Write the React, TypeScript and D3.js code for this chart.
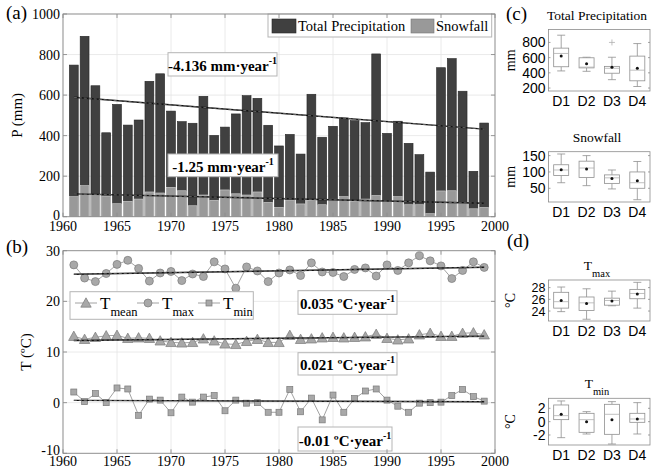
import React from 'react';
import * as d3 from 'd3';

// ---- data ----
const years = [1961, 1962, 1963, 1964, 1965, 1966, 1967, 1968, 1969, 1970,
    1971, 1972, 1973, 1974, 1975, 1976, 1977, 1978, 1979, 1980,
    1981, 1982, 1983, 1984, 1985, 1986, 1987, 1988, 1989, 1990,
    1991, 1992, 1993, 1994, 1995, 1996, 1997, 1998, 1999];

const totalPrecip = [748, 890, 646, 414, 554, 452, 477, 668, 705, 521,
    469, 461, 594, 401, 442, 507, 597, 584, 451, 349,
    406, 309, 604, 392, 446, 487, 474, 464, 803, 411,
    471, 362, 306, 220, 735, 780, 619, 224, 462];

const snowfall = [99, 153, 110, 102, 64, 76, 87, 122, 117, 145,
    128, 54, 107, 81, 132, 113, 107, 122, 71, 46,
    82, 63, 81, 59, 86, 99, 76, 87, 105, 76,
    99, 59, 59, 15, 127, 128, 66, 39, 46];

const tMax = [27.2, 24.6, 23.9, 25.5, 27.3, 28.1, 26.5, 24.0, 25.6, 25.9,
    24.1, 25.4, 24.9, 27.8, 26.4, 22.6, 26.8, 26.0, 23.9, 25.6,
    26.2, 25.1, 27.6, 25.8, 25.7, 24.9, 26.3, 26.6, 25.0, 27.2,
    26.1, 27.6, 29.0, 28.0, 27.0, 24.5, 26.1, 27.8, 26.7];

const tMean = [13.1, 12.5, 12.9, 13.2, 13.3, 12.7, 12.8, 12.7, 12.2, 11.9,
    11.8, 11.9, 12.6, 12.2, 11.6, 11.5, 12.1, 12.5, 11.9, 11.9,
    13.3, 12.5, 12.6, 12.8, 12.9, 12.8, 12.9, 13.0, 13.5, 12.7,
    12.4, 12.6, 13.4, 13.7, 13.1, 13.1, 13.7, 13.8, 13.4];

const tMin = [2.1, 0.2, 1.8, 0.0, 2.9, 2.7, -2.5, 0.7, 0.5, -2.0,
    1.1, 0.1, 1.1, 1.4, -1.6, 0.5, -0.1, 0.0, -1.9, -1.9,
    2.6, -1.8, 0.9, -3.4, 1.5, -1.9, 0.8, 2.3, 2.7, 0.5,
    -0.7, -1.9, -0.1, 0.0, 0.1, 1.4, 2.6, 1.2, 0.3];

const yearTicks = [1960, 1965, 1970, 1975, 1980, 1985, 1990, 1995, 2000];
const precipTicks = [0, 200, 400, 600, 800, 1000];
const tempTicks = [-10, 0, 10, 20, 30];

// box plots: [lower whisker, q1, median, q3, upper whisker]
const decades = ['D1', 'D2', 'D3', 'D4'];
const precipBox = [[425, 480, 655, 725, 895], [420, 465, 475, 598, 605], [310, 395, 460, 485, 605], [220, 295, 435, 620, 785]];
const precipMean = [620, 520, 475, 460];
const precipOutliers = [[], [], [800], []];
const snowBox = [[67, 89, 106, 122, 155], [58, 83, 112, 133, 150], [48, 65, 82, 91, 106], [15, 50, 67, 100, 132]];
const snowMean = [107, 109, 80, 73];
const tMaxBox = [[23.9, 24.5, 25.6, 27.2, 28.1], [22.6, 24.1, 25.4, 26.4, 27.8], [24.9, 25.0, 25.8, 26.2, 27.4], [24.5, 26.1, 27.0, 27.7, 28.9]];
const tMaxMean = [25.8, 25.3, 25.7, 26.9];
const tMinBox = [[-2.4, 0.3, 0.9, 2.5, 3.1], [-1.85, -1.6, 0.3, 1.25, 1.5], [-3.35, -1.9, 1.1, 2.6, 3.0], [-1.85, -0.1, 0.4, 1.25, 2.85]];
const tMinMean = [1.1, 0.0, 0.3, 0.4];

const SERIF = "'Liberation Serif', 'Times New Roman', serif";
const SANS = "'Liberation Sans', Arial, sans-serif";
const FRAME = '#8c8c8c';
const GRID = '#e4e4e4';

/* least squares fit, returns [slope, intercept] */
function linFit(xs: number[], ys: number[]) {
    const mx = d3.mean(xs) as number, my = d3.mean(ys) as number;
    const b = d3.sum(xs, (x, i) => (x - mx) * (ys[i] - my)) / d3.sum(xs, x => (x - mx) ** 2);
    return [b, my - b * mx];
}

function TrendLine({ xs, ys, x, y }: any) {
    const [b, a] = linFit(xs, ys);
    const x0 = xs[0], x1 = xs[xs.length - 1];
    const p = { x1: x(x0), y1: y(a + b * x0), x2: x(x1), y2: y(a + b * x1) };
    return (
        <g>
            <line {...p} stroke="#111" strokeWidth={1.4} />
            <line {...p} stroke="#999" strokeWidth={0.6} strokeDasharray="3,2" />
        </g>
    );
}

function Grid({ x, y, xTicks, yTicks, left, right, top, bottom }: any) {
    return (
        <g stroke={GRID} strokeWidth={0.8}>
            {xTicks.map((t: number) => <line key={'gx' + t} x1={x(t)} x2={x(t)} y1={top} y2={bottom} />)}
            {yTicks.map((t: number) => <line key={'gy' + t} y1={y(t)} y2={y(t)} x1={left} x2={right} />)}
        </g>
    );
}

function FrameOver({ x, y, xTicks, yTicks, left, right, top, bottom, tick = 4 }: any) {
    return (
        <g stroke={FRAME} strokeWidth={0.9} fill="none">
            <rect x={left} y={top} width={right - left} height={bottom - top} />
            {xTicks.map((t: number) => (
                <g key={'tx' + t}>
                    <line x1={x(t)} x2={x(t)} y1={bottom} y2={bottom - tick} />
                    <line x1={x(t)} x2={x(t)} y1={top} y2={top + tick} />
                </g>
            ))}
            {yTicks.map((t: number) => (
                <g key={'ty' + t}>
                    <line y1={y(t)} y2={y(t)} x1={left} x2={left + tick} />
                    <line y1={y(t)} y2={y(t)} x1={right} x2={right - tick} />
                </g>
            ))}
        </g>
    );
}

function Note({ x, y, w, h, text }: any) {
    return (
        <g>
            <rect x={x} y={y} width={w} height={h} fill="#fff" stroke="#b5b5b5" strokeWidth={1} />
            <text x={x + w / 2} y={y + h - 5} textAnchor="middle" fontFamily={SERIF} fontWeight="bold" fontSize={15}>
                {text}<tspan dy={-7} fontSize={10}>-1</tspan>
            </text>
        </g>
    );
}

/* ---------- (a) precipitation bars ---------- */
function PrecipPanel() {
    const left = 63, right = 495, top = 14, bottom = 216.7;
    const x = d3.scaleLinear().domain([1960, 2000]).range([left, right]);
    const y = d3.scaleLinear().domain([0, 1000]).range([bottom, top]);
    const bw = (x(1961) - x(1960)) * 0.82;
    const frame = { x, y, xTicks: yearTicks, yTicks: precipTicks, left, right, top, bottom };
    return (
        <g>
            <Grid {...frame} />
            {years.map((yr, i) => (
                <rect key={'t' + yr} x={x(yr) - bw / 2} y={y(totalPrecip[i])} width={bw}
                      height={y(0) - y(totalPrecip[i])} fill="#404040" stroke="#262626" strokeWidth={0.6} />
            ))}
            {years.map((yr, i) => (
                <rect key={'s' + yr} x={x(yr) - bw / 2} y={y(snowfall[i])} width={bw}
                      height={y(0) - y(snowfall[i])} fill="#999" stroke="#d0d0d0" strokeWidth={0.6} />
            ))}
            <TrendLine xs={years} ys={totalPrecip} x={x} y={y} />
            <TrendLine xs={years} ys={snowfall} x={x} y={y} />
            <Note x={168} y={52.7} w={109} h={23.3} text="-4.136 mm·year" />
            <Note x={168} y={154} w={110} h={22.7} text="-1.25 mm·year" />
            {/* legend */}
            <rect x={268} y={top} width={223.7} height={23} fill="#fff" stroke="#b5b5b5" />
            <rect x={272} y={19} width={24} height={14} fill="#404040" stroke="#262626" strokeWidth={0.6} />
            <text x={298} y={31} fontFamily={SERIF} fontSize={14.5}>Total Precipitation</text>
            <rect x={411} y={19} width={23} height={14} fill="#999" stroke="#777" strokeWidth={0.6} />
            <text x={436} y={31} fontFamily={SERIF} fontSize={14.5}>Snowfall</text>
            <FrameOver {...frame} />
            {precipTicks.map(t => (
                <text key={t} x={left - 3} y={y(t) + (t === 0 ? 3 : 5)} textAnchor="end" fontFamily={SERIF} fontSize={14}>{t}</text>
            ))}
            {yearTicks.map(t => (
                <text key={t} x={x(t)} y={bottom + 14.5} textAnchor="middle" fontFamily={SERIF} fontSize={14}>{t}</text>
            ))}
            <text transform={`translate(22,${(top + bottom) / 2}) rotate(-90)`} textAnchor="middle"
                  fontFamily={SERIF} fontSize={15}>P (mm)</text>
            <text x={6} y={19} fontFamily={SERIF} fontSize={19}>(a)</text>
        </g>
    );
}

/* ---------- (b) temperature lines ---------- */
function Marker({ kind, cx, cy }: any) {
    const fill = '#a8a8a8', stroke = '#7a7a7a';
    if (kind === 'tri') {
        const s = 5.2;
        return <path d={`M${cx},${cy - s}L${cx + s},${cy + s * 0.8}L${cx - s},${cy + s * 0.8}Z`} fill={fill} stroke={stroke} strokeWidth={0.7} />;
    }
    if (kind === 'sq') return <rect x={cx - 3} y={cy - 3} width={6} height={6} fill={fill} stroke={stroke} strokeWidth={0.7} />;
    return <circle cx={cx} cy={cy} r={4} fill={fill} stroke={stroke} strokeWidth={0.7} />;
}

function Series({ values, kind, x, y }: any) {
    const line = d3.line<number>().x((d, i) => x(years[i])).y(d => y(d));
    return (
        <g>
            <path d={line(values) as string} fill="none" stroke="#8a8a8a" strokeWidth={0.8} />
            {values.map((v: number, i: number) => <Marker key={i} kind={kind} cx={x(years[i])} cy={y(v)} />)}
        </g>
    );
}

function TempPanel() {
    const left = 63, right = 495, top = 250.7, bottom = 453.3;
    const x = d3.scaleLinear().domain([1960, 2000]).range([left, right]);
    const y = d3.scaleLinear().domain([-10, 30]).range([bottom, top]);
    const frame = { x, y, xTicks: yearTicks, yTicks: tempTicks, left, right, top, bottom };
    const legend = [
        { kind: 'tri', sub: 'mean', x: 75 },
        { kind: 'circ', sub: 'max', x: 137 },
        { kind: 'sq', sub: 'min', x: 198 }
    ];
    return (
        <g>
            <Grid {...frame} />
            <Series values={tMax} kind="circ" x={x} y={y} />
            <Series values={tMean} kind="tri" x={x} y={y} />
            <Series values={tMin} kind="sq" x={x} y={y} />
            <TrendLine xs={years} ys={tMax} x={x} y={y} />
            <TrendLine xs={years} ys={tMean} x={x} y={y} />
            <TrendLine xs={years} ys={tMin} x={x} y={y} />
            <Note x={298} y={290.7} w={99} h={23.6} text="0.035 ºC·year" />
            <Note x={298} y={352.7} w={99} h={22.3} text="0.021 ºC·year" />
            <Note x={298} y={427} w={94} h={24} text="-0.01 ºC·year" />
            <rect x={70} y={291.7} width={183.3} height={27.6} fill="#fff" stroke="#b5b5b5" />
            {legend.map(l => (
                <g key={l.sub}>
                    <line x1={l.x} x2={l.x + 22} y1={303} y2={303} stroke="#8a8a8a" strokeWidth={0.8} />
                    <Marker kind={l.kind} cx={l.x + 11} cy={303} />
                    <text x={l.x + 25} y={309} fontFamily={SERIF} fontSize={17}>
                        T<tspan dy={7} fontSize={12.5}>{l.sub}</tspan>
                    </text>
                </g>
            ))}
            <FrameOver {...frame} />
            {tempTicks.map(t => (
                <text key={t} x={left - 3} y={y(t) + (t === -10 ? 2 : 5)} textAnchor="end" fontFamily={SERIF} fontSize={14}>{t}</text>
            ))}
            {yearTicks.map(t => (
                <text key={t} x={x(t)} y={bottom + 13} textAnchor="middle" fontFamily={SERIF} fontSize={14}>{t}</text>
            ))}
            <text transform={`translate(31,${(top + bottom) / 2}) rotate(-90)`} textAnchor="middle"
                  fontFamily={SERIF} fontSize={15}>T (ºC)</text>
            <text x={6} y={253} fontFamily={SERIF} fontSize={19}>(b)</text>
        </g>
    );
}

/* ---------- (c), (d) box plots ---------- */
function BoxPlot({ top, bottom, domain, ticks, boxes, means, outliers = [[], [], [], []], unit, title, sub, tickSize = 14 }: any) {
    const left = 548.5, right = 650;
    const x = d3.scaleLinear().domain([0.5, 4.5]).range([left, right]);
    const y = d3.scaleLinear().domain(domain).range([bottom, top]);
    const bw = 15, cap = 8;
    const stroke = '#8f8f8f';
    return (
        <g>
            {boxes.map((b: number[], i: number) => {
                const cx = x(i + 1);
                return (
                    <g key={i} stroke={stroke} strokeWidth={0.8} fill="none">
                        <line x1={cx} x2={cx} y1={y(b[4])} y2={y(b[3])} />
                        <line x1={cx} x2={cx} y1={y(b[1])} y2={y(b[0])} />
                        <line x1={cx - cap / 2} x2={cx + cap / 2} y1={y(b[4])} y2={y(b[4])} />
                        <line x1={cx - cap / 2} x2={cx + cap / 2} y1={y(b[0])} y2={y(b[0])} />
                        <rect x={cx - bw / 2} y={y(b[3])} width={bw} height={y(b[1]) - y(b[3])} fill="#fff" />
                        <line x1={cx - bw / 2} x2={cx + bw / 2} y1={y(b[2])} y2={y(b[2])} stroke="#b0b0b0" />
                        {outliers[i].map((o: number) => (
                            <path key={o} d={`M${cx - 3},${y(o)}h6M${cx},${y(o) - 3}v6`} stroke="#b0b0b0" />
                        ))}
                        <circle cx={cx} cy={y(means[i])} r={1.5} fill="#111" stroke="none" />
                    </g>
                );
            })}
            <g stroke={FRAME} strokeWidth={0.8} fill="none">
                <rect x={left} y={top} width={right - left} height={bottom - top} />
                {ticks.map((t: number) => (
                    <g key={t}>
                        <line x1={left} x2={left + 2} y1={y(t)} y2={y(t)} />
                        <line x1={right} x2={right - 2} y1={y(t)} y2={y(t)} />
                    </g>
                ))}
            </g>
            {ticks.map((t: number) => (
                <text key={t} x={left - 3} y={y(t) + tickSize * 0.36} textAnchor="end" fontFamily={SANS} fontSize={tickSize}>{t}</text>
            ))}
            {decades.map((d, i) => (
                <text key={d} x={x(i + 1)} y={bottom + 15} textAnchor="middle" fontFamily={SANS} fontSize={14}>{d}</text>
            ))}
            <text transform={`translate(515,${(top + bottom) / 2}) rotate(-90)`} textAnchor="middle"
                  fontFamily={SERIF} fontSize={14}>{unit}</text>
            <text x={597} y={top - 10} textAnchor="middle" fontFamily={SERIF} fontSize={13.5}>
                {title}{sub && <tspan dy={7} fontSize={10.5}>{sub}</tspan>}
            </text>
        </g>
    );
}

export default function App() {
    return (
        <svg width={652} height={474} style={{ position: 'absolute', left: 0, top: 0, background: '#fff' }}>
            <rect width={652} height={474} fill="#fff" />
            <PrecipPanel />
            <TempPanel />
            <text x={506} y={20} fontFamily={SERIF} fontSize={19}>(c)</text>
            <BoxPlot top={29.5} bottom={91} domain={[161, 970]} ticks={[200, 400, 600, 800]}
                     boxes={precipBox} means={precipMean} outliers={precipOutliers} unit="mm" title="Total Precipitation" />
            <BoxPlot top={151.7} bottom={202} domain={[8, 162]} ticks={[50, 100, 150]}
                     boxes={snowBox} means={snowMean} unit="mm" title="Snowfall" />
            <text x={507} y={247} fontFamily={SERIF} fontSize={19}>(d)</text>
            <BoxPlot top={280} bottom={321} domain={[22.3, 29.3]} ticks={[24, 26, 28]} tickSize={12.5}
                     boxes={tMaxBox} means={tMaxMean} unit="°C" title="T" sub="max" />
            <BoxPlot top={398.3} bottom={445} domain={[-3.5, 3.5]} ticks={[-2, 0, 2]}
                     boxes={tMinBox} means={tMinMean} unit="°C" title="T" sub="min" />
        </svg>
    );
}
